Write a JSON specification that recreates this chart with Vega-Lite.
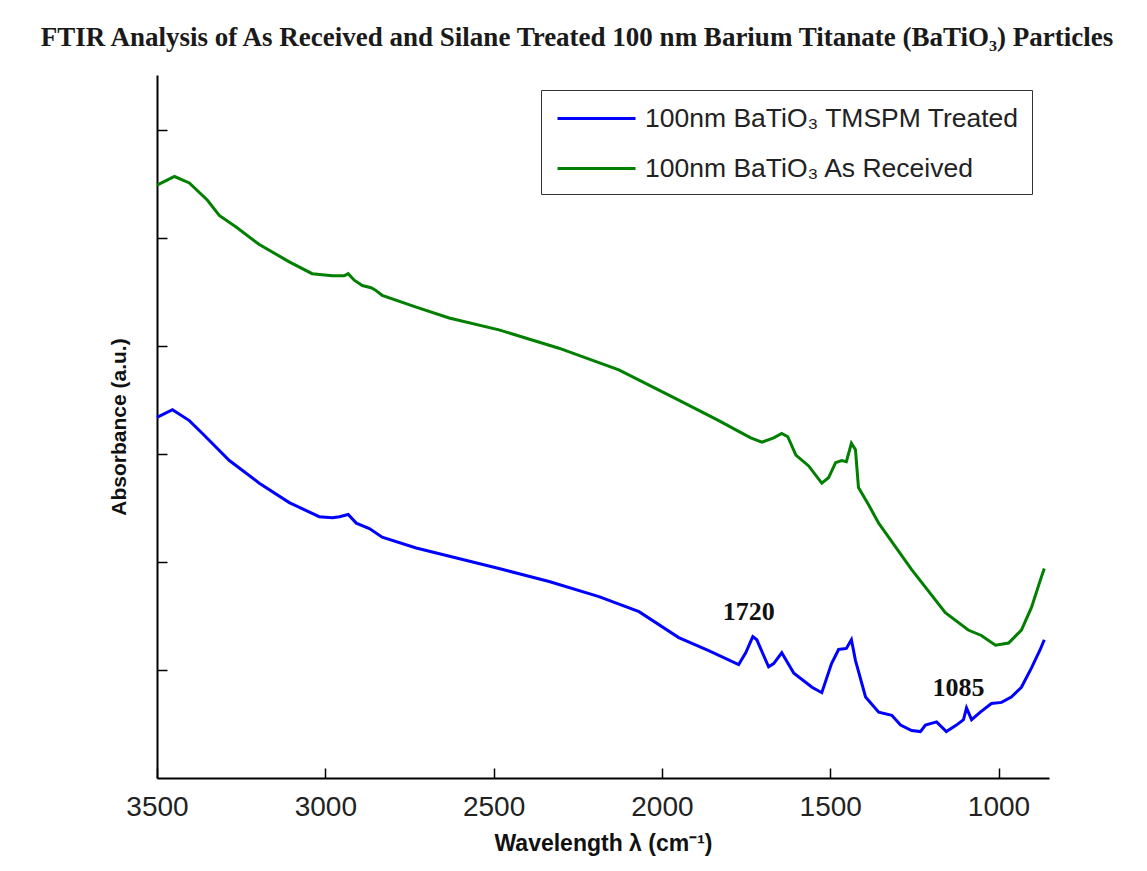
{
  "$schema": "https://vega.github.io/schema/vega-lite/v6.json",
  "width": 892,
  "height": 703,
  "autosize": {"type": "none"},
  "padding": {"left": 157, "top": 75, "right": 98, "bottom": 93},
  "background": "white",
  "title": {
    "text": "FTIR Analysis of As Received and Silane Treated 100 nm Barium Titanate (BaTiO₃) Particles",
    "font": "Liberation Serif",
    "fontSize": 27,
    "fontWeight": "bold",
    "color": "#1a1a1a",
    "anchor": "middle",
    "frame": "group",
    "dx": -26,
    "offset": 23
  },
  "datasets": {
    "spectra": [
      {"series": "100nm BaTiO₃ TMSPM Treated", "wavenumber": 3500, "absorbance": 3.34},
      {"series": "100nm BaTiO₃ TMSPM Treated", "wavenumber": 3454, "absorbance": 3.41},
      {"series": "100nm BaTiO₃ TMSPM Treated", "wavenumber": 3404, "absorbance": 3.31},
      {"series": "100nm BaTiO₃ TMSPM Treated", "wavenumber": 3365, "absorbance": 3.19},
      {"series": "100nm BaTiO₃ TMSPM Treated", "wavenumber": 3285, "absorbance": 2.94},
      {"series": "100nm BaTiO₃ TMSPM Treated", "wavenumber": 3196, "absorbance": 2.73},
      {"series": "100nm BaTiO₃ TMSPM Treated", "wavenumber": 3107, "absorbance": 2.55},
      {"series": "100nm BaTiO₃ TMSPM Treated", "wavenumber": 3018, "absorbance": 2.42},
      {"series": "100nm BaTiO₃ TMSPM Treated", "wavenumber": 2979, "absorbance": 2.41},
      {"series": "100nm BaTiO₃ TMSPM Treated", "wavenumber": 2958, "absorbance": 2.42},
      {"series": "100nm BaTiO₃ TMSPM Treated", "wavenumber": 2932, "absorbance": 2.44},
      {"series": "100nm BaTiO₃ TMSPM Treated", "wavenumber": 2908, "absorbance": 2.36},
      {"series": "100nm BaTiO₃ TMSPM Treated", "wavenumber": 2869, "absorbance": 2.31},
      {"series": "100nm BaTiO₃ TMSPM Treated", "wavenumber": 2831, "absorbance": 2.23},
      {"series": "100nm BaTiO₃ TMSPM Treated", "wavenumber": 2730, "absorbance": 2.13},
      {"series": "100nm BaTiO₃ TMSPM Treated", "wavenumber": 2484, "absorbance": 1.94},
      {"series": "100nm BaTiO₃ TMSPM Treated", "wavenumber": 2335, "absorbance": 1.82},
      {"series": "100nm BaTiO₃ TMSPM Treated", "wavenumber": 2187, "absorbance": 1.68},
      {"series": "100nm BaTiO₃ TMSPM Treated", "wavenumber": 2068, "absorbance": 1.54},
      {"series": "100nm BaTiO₃ TMSPM Treated", "wavenumber": 1950, "absorbance": 1.30},
      {"series": "100nm BaTiO₃ TMSPM Treated", "wavenumber": 1861, "absorbance": 1.18},
      {"series": "100nm BaTiO₃ TMSPM Treated", "wavenumber": 1772, "absorbance": 1.05},
      {"series": "100nm BaTiO₃ TMSPM Treated", "wavenumber": 1751, "absorbance": 1.16},
      {"series": "100nm BaTiO₃ TMSPM Treated", "wavenumber": 1730, "absorbance": 1.31},
      {"series": "100nm BaTiO₃ TMSPM Treated", "wavenumber": 1718, "absorbance": 1.28},
      {"series": "100nm BaTiO₃ TMSPM Treated", "wavenumber": 1683, "absorbance": 1.03},
      {"series": "100nm BaTiO₃ TMSPM Treated", "wavenumber": 1668, "absorbance": 1.06},
      {"series": "100nm BaTiO₃ TMSPM Treated", "wavenumber": 1644, "absorbance": 1.16},
      {"series": "100nm BaTiO₃ TMSPM Treated", "wavenumber": 1608, "absorbance": 0.97},
      {"series": "100nm BaTiO₃ TMSPM Treated", "wavenumber": 1554, "absorbance": 0.84},
      {"series": "100nm BaTiO₃ TMSPM Treated", "wavenumber": 1525, "absorbance": 0.79},
      {"series": "100nm BaTiO₃ TMSPM Treated", "wavenumber": 1496, "absorbance": 1.06},
      {"series": "100nm BaTiO₃ TMSPM Treated", "wavenumber": 1475, "absorbance": 1.19},
      {"series": "100nm BaTiO₃ TMSPM Treated", "wavenumber": 1452, "absorbance": 1.20},
      {"series": "100nm BaTiO₃ TMSPM Treated", "wavenumber": 1437, "absorbance": 1.28},
      {"series": "100nm BaTiO₃ TMSPM Treated", "wavenumber": 1425, "absorbance": 1.09},
      {"series": "100nm BaTiO₃ TMSPM Treated", "wavenumber": 1395, "absorbance": 0.75},
      {"series": "100nm BaTiO₃ TMSPM Treated", "wavenumber": 1356, "absorbance": 0.61},
      {"series": "100nm BaTiO₃ TMSPM Treated", "wavenumber": 1317, "absorbance": 0.58},
      {"series": "100nm BaTiO₃ TMSPM Treated", "wavenumber": 1291, "absorbance": 0.49},
      {"series": "100nm BaTiO₃ TMSPM Treated", "wavenumber": 1258, "absorbance": 0.44},
      {"series": "100nm BaTiO₃ TMSPM Treated", "wavenumber": 1232, "absorbance": 0.43},
      {"series": "100nm BaTiO₃ TMSPM Treated", "wavenumber": 1217, "absorbance": 0.49},
      {"series": "100nm BaTiO₃ TMSPM Treated", "wavenumber": 1184, "absorbance": 0.52},
      {"series": "100nm BaTiO₃ TMSPM Treated", "wavenumber": 1155, "absorbance": 0.43},
      {"series": "100nm BaTiO₃ TMSPM Treated", "wavenumber": 1125, "absorbance": 0.49},
      {"series": "100nm BaTiO₃ TMSPM Treated", "wavenumber": 1104, "absorbance": 0.54},
      {"series": "100nm BaTiO₃ TMSPM Treated", "wavenumber": 1095, "absorbance": 0.65},
      {"series": "100nm BaTiO₃ TMSPM Treated", "wavenumber": 1080, "absorbance": 0.54},
      {"series": "100nm BaTiO₃ TMSPM Treated", "wavenumber": 1054, "absorbance": 0.61},
      {"series": "100nm BaTiO₃ TMSPM Treated", "wavenumber": 1021, "absorbance": 0.69},
      {"series": "100nm BaTiO₃ TMSPM Treated", "wavenumber": 991, "absorbance": 0.70},
      {"series": "100nm BaTiO₃ TMSPM Treated", "wavenumber": 962, "absorbance": 0.75},
      {"series": "100nm BaTiO₃ TMSPM Treated", "wavenumber": 932, "absorbance": 0.84},
      {"series": "100nm BaTiO₃ TMSPM Treated", "wavenumber": 902, "absorbance": 1.02},
      {"series": "100nm BaTiO₃ TMSPM Treated", "wavenumber": 876, "absorbance": 1.19},
      {"series": "100nm BaTiO₃ TMSPM Treated", "wavenumber": 864, "absorbance": 1.28},
      {"series": "100nm BaTiO₃ As Received", "wavenumber": 3500, "absorbance": 5.49},
      {"series": "100nm BaTiO₃ As Received", "wavenumber": 3448, "absorbance": 5.57},
      {"series": "100nm BaTiO₃ As Received", "wavenumber": 3404, "absorbance": 5.51},
      {"series": "100nm BaTiO₃ As Received", "wavenumber": 3350, "absorbance": 5.35},
      {"series": "100nm BaTiO₃ As Received", "wavenumber": 3315, "absorbance": 5.21},
      {"series": "100nm BaTiO₃ As Received", "wavenumber": 3264, "absorbance": 5.10},
      {"series": "100nm BaTiO₃ As Received", "wavenumber": 3196, "absorbance": 4.94},
      {"series": "100nm BaTiO₃ As Received", "wavenumber": 3107, "absorbance": 4.78},
      {"series": "100nm BaTiO₃ As Received", "wavenumber": 3039, "absorbance": 4.67},
      {"series": "100nm BaTiO₃ As Received", "wavenumber": 2979, "absorbance": 4.65},
      {"series": "100nm BaTiO₃ As Received", "wavenumber": 2944, "absorbance": 4.65},
      {"series": "100nm BaTiO₃ As Received", "wavenumber": 2932, "absorbance": 4.67},
      {"series": "100nm BaTiO₃ As Received", "wavenumber": 2914, "absorbance": 4.61},
      {"series": "100nm BaTiO₃ As Received", "wavenumber": 2890, "absorbance": 4.56},
      {"series": "100nm BaTiO₃ As Received", "wavenumber": 2864, "absorbance": 4.54},
      {"series": "100nm BaTiO₃ As Received", "wavenumber": 2852, "absorbance": 4.52},
      {"series": "100nm BaTiO₃ As Received", "wavenumber": 2831, "absorbance": 4.47},
      {"series": "100nm BaTiO₃ As Received", "wavenumber": 2730, "absorbance": 4.36},
      {"series": "100nm BaTiO₃ As Received", "wavenumber": 2632, "absorbance": 4.26},
      {"series": "100nm BaTiO₃ As Received", "wavenumber": 2484, "absorbance": 4.15},
      {"series": "100nm BaTiO₃ As Received", "wavenumber": 2306, "absorbance": 3.98},
      {"series": "100nm BaTiO₃ As Received", "wavenumber": 2128, "absorbance": 3.78},
      {"series": "100nm BaTiO₃ As Received", "wavenumber": 1950, "absorbance": 3.50},
      {"series": "100nm BaTiO₃ As Received", "wavenumber": 1831, "absorbance": 3.31},
      {"series": "100nm BaTiO₃ As Received", "wavenumber": 1772, "absorbance": 3.21},
      {"series": "100nm BaTiO₃ As Received", "wavenumber": 1736, "absorbance": 3.15},
      {"series": "100nm BaTiO₃ As Received", "wavenumber": 1703, "absorbance": 3.11},
      {"series": "100nm BaTiO₃ As Received", "wavenumber": 1668, "absorbance": 3.15},
      {"series": "100nm BaTiO₃ As Received", "wavenumber": 1644, "absorbance": 3.19},
      {"series": "100nm BaTiO₃ As Received", "wavenumber": 1626, "absorbance": 3.16},
      {"series": "100nm BaTiO₃ As Received", "wavenumber": 1602, "absorbance": 2.99},
      {"series": "100nm BaTiO₃ As Received", "wavenumber": 1564, "absorbance": 2.89},
      {"series": "100nm BaTiO₃ As Received", "wavenumber": 1525, "absorbance": 2.73},
      {"series": "100nm BaTiO₃ As Received", "wavenumber": 1505, "absorbance": 2.78},
      {"series": "100nm BaTiO₃ As Received", "wavenumber": 1484, "absorbance": 2.92},
      {"series": "100nm BaTiO₃ As Received", "wavenumber": 1466, "absorbance": 2.94},
      {"series": "100nm BaTiO₃ As Received", "wavenumber": 1452, "absorbance": 2.93},
      {"series": "100nm BaTiO₃ As Received", "wavenumber": 1437, "absorbance": 3.10},
      {"series": "100nm BaTiO₃ As Received", "wavenumber": 1425, "absorbance": 3.04},
      {"series": "100nm BaTiO₃ As Received", "wavenumber": 1416, "absorbance": 2.69},
      {"series": "100nm BaTiO₃ As Received", "wavenumber": 1386, "absorbance": 2.53},
      {"series": "100nm BaTiO₃ As Received", "wavenumber": 1356, "absorbance": 2.36},
      {"series": "100nm BaTiO₃ As Received", "wavenumber": 1258, "absorbance": 1.93},
      {"series": "100nm BaTiO₃ As Received", "wavenumber": 1158, "absorbance": 1.53},
      {"series": "100nm BaTiO₃ As Received", "wavenumber": 1090, "absorbance": 1.37},
      {"series": "100nm BaTiO₃ As Received", "wavenumber": 1051, "absorbance": 1.32},
      {"series": "100nm BaTiO₃ As Received", "wavenumber": 1009, "absorbance": 1.23},
      {"series": "100nm BaTiO₃ As Received", "wavenumber": 970, "absorbance": 1.25},
      {"series": "100nm BaTiO₃ As Received", "wavenumber": 932, "absorbance": 1.37},
      {"series": "100nm BaTiO₃ As Received", "wavenumber": 902, "absorbance": 1.58},
      {"series": "100nm BaTiO₃ As Received", "wavenumber": 876, "absorbance": 1.83},
      {"series": "100nm BaTiO₃ As Received", "wavenumber": 864, "absorbance": 1.94}
    ],
    "notes": [
      {"label": "1720", "wavenumber": 1742, "absorbance": 1.54},
      {"label": "1085", "wavenumber": 1119, "absorbance": 0.83}
    ]
  },
  "layer": [
    {
      "data": {"name": "spectra"},
      "mark": {"type": "line", "strokeWidth": 3},
      "encoding": {
        "x": {
          "field": "wavenumber",
          "type": "quantitative",
          "scale": {"domain": [850, 3500], "reverse": true, "nice": false, "zero": false},
          "axis": {
            "values": [1000, 1500, 2000, 2500, 3000, 3500],
            "format": "d",
            "grid": false,
            "tickSize": -10,
            "tickColor": "black",
            "tickWidth": 1.5,
            "domainColor": "black",
            "domainWidth": 2,
            "labelFont": "Liberation Sans",
            "labelFontSize": 28,
            "labelColor": "#222",
            "labelPadding": 25,
            "labelFlush": false,
            "title": "Wavelength λ (cm⁻¹)",
            "titleFont": "Liberation Sans",
            "titleFontSize": 23,
            "titleFontWeight": "bold",
            "titleColor": "#111",
            "titlePadding": 11
          }
        },
        "y": {
          "field": "absorbance",
          "type": "quantitative",
          "scale": {"domain": [0, 6.51], "nice": false, "zero": false},
          "axis": {
            "values": [1, 2, 3, 4, 5, 6],
            "labels": false,
            "grid": false,
            "tickSize": -10,
            "tickColor": "black",
            "tickWidth": 1.5,
            "domainColor": "black",
            "domainWidth": 2,
            "title": "Absorbance (a.u.)",
            "titleFont": "Liberation Sans",
            "titleFontSize": 21,
            "titleFontWeight": "bold",
            "titleColor": "#111",
            "titlePadding": 27
          }
        },
        "color": {
          "field": "series",
          "type": "nominal",
          "sort": ["100nm BaTiO₃ TMSPM Treated", "100nm BaTiO₃ As Received"],
          "scale": {"domain": ["100nm BaTiO₃ TMSPM Treated", "100nm BaTiO₃ As Received"], "range": ["#0000ff", "#007f00"]},
          "legend": {
            "title": null,
            "orient": "none",
            "legendX": 384,
            "legendY": 15,
            "padding": 12,
            "strokeColor": "#333",
            "fillColor": "white",
            "symbolType": "M-2.6,0L2.6,0",
            "symbolSize": 900,
            "symbolStrokeWidth": 3,
            "symbolOffset": 27,
            "labelOffset": 32,
            "labelFont": "Liberation Sans",
            "labelFontSize": 26.5,
            "labelColor": "#222",
            "rowPadding": 20,
            "labelLimit": 600
          }
        }
      }
    },
    {
      "data": {"name": "notes"},
      "mark": {"type": "text", "font": "Liberation Serif", "fontWeight": "bold", "fontSize": 26, "color": "#111"},
      "encoding": {
        "x": {"field": "wavenumber", "type": "quantitative"},
        "y": {"field": "absorbance", "type": "quantitative"},
        "text": {"field": "label", "type": "nominal"}
      }
    }
  ],
  "config": {"view": {"stroke": null}}
}
